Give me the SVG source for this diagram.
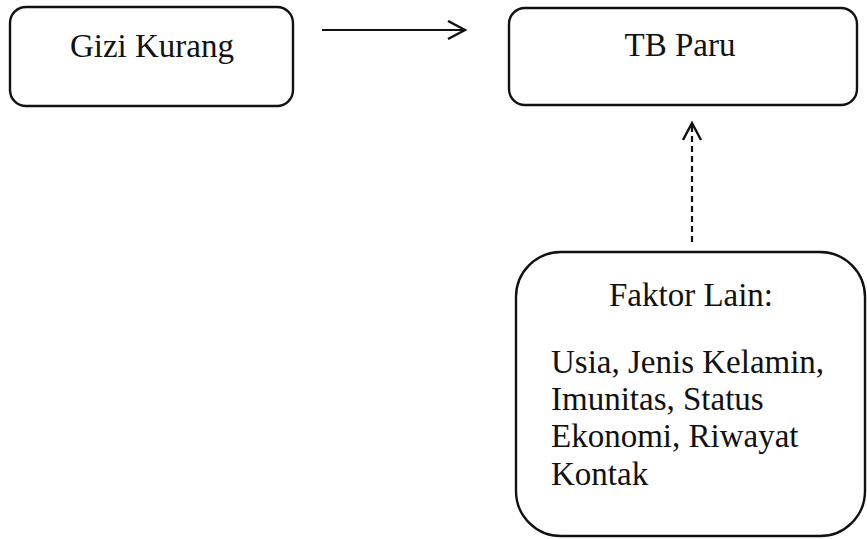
<svg xmlns="http://www.w3.org/2000/svg" width="867" height="539" viewBox="0 0 867 539">
<style>
.box{fill:#fff;stroke:#111;stroke-width:2.4}
.t{font-family:"Liberation Serif","Times New Roman",serif;font-size:33px;fill:#111}
.c{stroke:#111;stroke-width:2.2;fill:none}
</style>
<defs>
<marker id="ah" markerWidth="22" markerHeight="22" refX="18" refY="10" orient="auto" markerUnits="userSpaceOnUse">
<path d="M1,1 L18,10 L1,19" fill="none" stroke="#111" stroke-width="2.4"/>
</marker>
</defs>
<rect width="867" height="539" fill="#fff"/>
<g id="gizi">
<rect class="box" x="10" y="7" width="283" height="99" rx="16"/>
<text class="t" x="152" y="57" text-anchor="middle">Gizi Kurang</text>
</g>
<g id="tb">
<rect class="box" x="509" y="8" width="348" height="97" rx="16"/>
<text class="t" x="680" y="56" text-anchor="middle">TB Paru</text>
</g>
<g id="faktor">
<rect class="box" x="516" y="252" width="349" height="284" rx="45"/>
<text class="t" x="691" y="306" text-anchor="middle">Faktor Lain:</text>
<text class="t" x="551" y="373">Usia, Jenis Kelamin,</text>
<text class="t" x="551" y="410">Imunitas, Status</text>
<text class="t" x="551" y="447">Ekonomi, Riwayat</text>
<text class="t" x="551" y="485">Kontak</text>
</g>
<g id="connectors">
<line class="c" x1="322" y1="30" x2="465" y2="30" marker-end="url(#ah)"/>
<line class="c" x1="692" y1="242" x2="692" y2="123" stroke-dasharray="6,4" marker-end="url(#ah)"/>
</g>
</svg>
